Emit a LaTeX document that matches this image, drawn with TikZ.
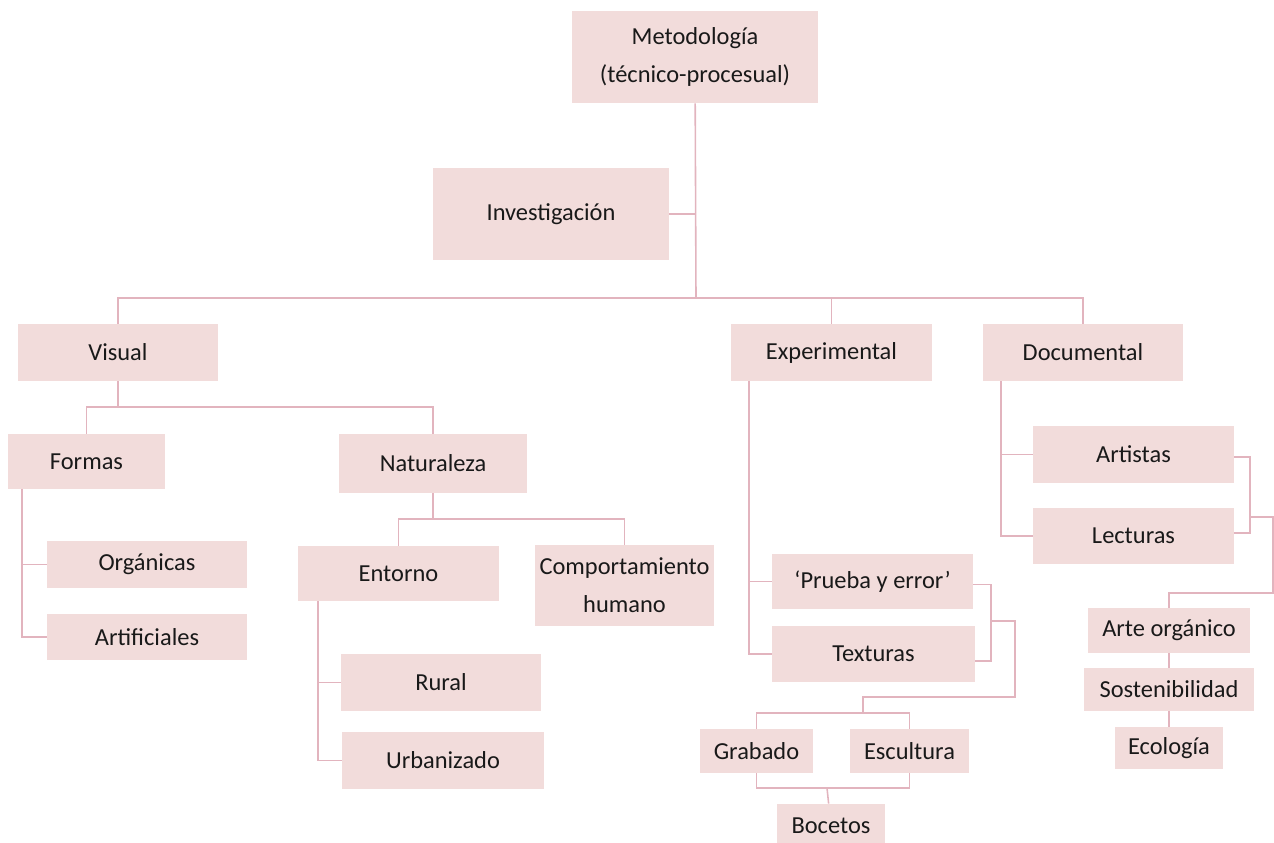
\documentclass[tikz,border=0pt]{standalone}
\usepackage{fontspec}
\setmainfont{Carlito}
\definecolor{boxpink}{HTML}{F2DCDB}
\definecolor{linepink}{RGB}{226,180,190}

\begin{document}
\begin{tikzpicture}[
    box/.style = {
        rectangle,
        fill = boxpink,
        minimum width = 4cm,
        minimum height = 1.14cm,
        inner sep = 0pt,
        align = center,
        text = black!90,
        font = \fontsize{13.9pt}{21.6pt}\selectfont
    },
    smallbox/.style = {box, minimum height = 0.88cm},
    link/.style = {draw = linepink, line width = 0.9pt}
]

\clip (0, 0) rectangle (25.48, -16.86);

% Root and research
\node[box, minimum width = 4.92cm, minimum height = 1.84cm] (metodologia) at (13.9, -1.14) {
    Metodología \\
    (técnico-procesual)
};
\node[box, minimum width = 4.72cm, minimum height = 1.84cm] (investigacion) at (11.02, -4.28) {Investigación};

% Three branches
\node[box] (visual) at (2.36, -7.05) {Visual};
\node[box, minimum width = 4.02cm] (experimental) at (16.63, -7.05) {Experimental};
\node[box] (documental) at (21.66, -7.05) {Documental};

% Visual branch
\node[box, minimum width = 3.14cm, minimum height = 1.1cm] (formas) at (1.73, -9.23) {Formas};
\node[box, minimum width = 3.76cm, minimum height = 1.18cm] (naturaleza) at (8.66, -9.27) {Naturaleza};
\node[box, minimum height = 0.94cm] (organicas) at (2.94, -11.29) {Orgánicas};
\node[box, minimum height = 0.92cm] (artificiales) at (2.94, -12.74) {Artificiales};
\node[box, minimum width = 4.02cm, minimum height = 1.1cm] (entorno) at (7.97, -11.47) {Entorno};
\node[box, minimum width = 3.58cm, minimum height = 1.62cm] (comportamiento) at (12.49, -11.71) {
    Comportamiento \\
    humano
};
\node[box] (rural) at (8.82, -13.65) {Rural};
\node[box, minimum width = 4.04cm] (urbanizado) at (8.86, -15.21) {Urbanizado};

% Experimental branch
\node[box, minimum width = 4.02cm, minimum height = 1.1cm] (prueba) at (17.45, -11.63) {‘Prueba y error’};
\node[box, minimum width = 4.06cm, minimum height = 1.12cm] (texturas) at (17.47, -13.08) {Texturas};
\node[smallbox, minimum width = 2.26cm] (grabado) at (15.13, -15.02) {Grabado};
\node[smallbox, minimum width = 2.38cm] (escultura) at (18.19, -15.02) {Escultura};
\node[smallbox, minimum width = 2.16cm] (bocetos) at (16.62, -16.52) {Bocetos};

% Documental branch
\node[box, minimum width = 4.02cm] (artistas) at (22.67, -9.09) {Artistas};
\node[box, minimum width = 4.02cm, minimum height = 1.12cm] (lecturas) at (22.67, -10.72) {Lecturas};
\node[box, minimum width = 3.24cm, minimum height = 0.9cm] (arte) at (23.38, -12.61) {Arte orgánico};
\node[box, minimum width = 3.4cm, minimum height = 0.86cm] (sostenibilidad) at (23.38, -13.79) {Sostenibilidad};
\node[box, minimum width = 2.16cm, minimum height = 0.84cm] (ecologia) at (23.38, -14.96) {Ecología};

% Joints
\coordinate (bus) at (13.92, -5.96);
\coordinate (vjoin) at (2.36, -8.14);
\coordinate (njoin) at (8.66, -10.38);
\coordinate (frail) at (0.44, -9.78);
\coordinate (erail) at (6.36, -12.02);
\coordinate (xrail) at (14.98, -7.62);
\coordinate (drail) at (20.02, -7.62);
\coordinate (pmid) at (19.82, -12.42);
\coordinate (pout) at (20.3, -13.94);
\coordinate (gjoin) at (17.26, -14.26);
\coordinate (bjoin) at (16.54, -15.76);
\coordinate (amid) at (25.0, -10.34);
\coordinate (aout) at (25.46, -11.86);

% Top level
\draw[link] (metodologia) -- (bus);
\draw[link] (investigacion) -- (investigacion -| bus);
\draw[link] (visual) |- (bus) -| (documental);
\draw[link] (experimental) -- (experimental |- bus);

% Visual
\draw[link] (visual) -- (vjoin);
\draw[link] (formas) |- (vjoin) -| (naturaleza);
\draw[link] (frail) |- (artificiales);
\draw[link] (frail |- organicas) -- (organicas);
\draw[link] (naturaleza) -- (njoin);
\draw[link] (entorno) |- (njoin) -| (comportamiento);
\draw[link] (erail) |- (urbanizado);
\draw[link] (erail |- rural) -- (rural);

% Experimental
\draw[link] (xrail) |- (texturas);
\draw[link] (xrail |- prueba) -- (prueba);
\draw[link] ([yshift=-0.06cm]prueba.east) -| (pmid) |- ([yshift=-0.14cm]texturas.east);
\draw[link] (pmid) -| (pout) -| (gjoin);
\draw[link] (grabado) |- (gjoin) -| (escultura);
\draw[link] (grabado) |- (bjoin) -| (escultura);
\draw[link] (bjoin) -- (bocetos);

% Documental
\draw[link] (drail) |- (lecturas);
\draw[link] (drail |- artistas) -- (artistas);
\draw[link] ([yshift=-0.05cm]artistas.east) -| (amid) |- ([yshift=0.06cm]lecturas.east);
\draw[link] (amid) -| (aout) -| (arte);
\draw[link] (arte) -- (sostenibilidad);
\draw[link] (sostenibilidad) -- (ecologia);

\end{tikzpicture}
\end{document}
